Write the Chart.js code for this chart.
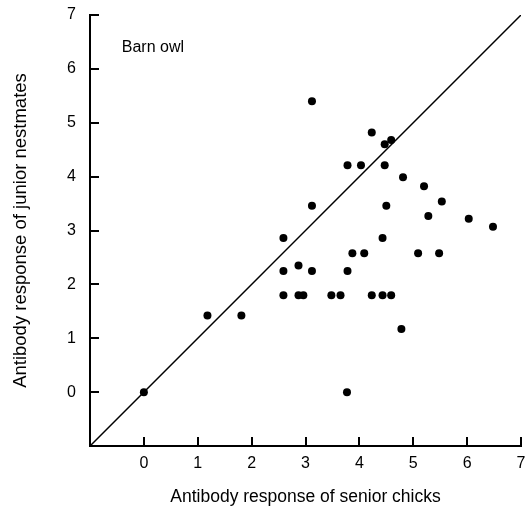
<!DOCTYPE html>
<html>
<head>
<meta charset="utf-8">
<script src="https://cdn.jsdelivr.net/npm/chart.js@4/dist/chart.umd.min.js"></script>
<style>
  body { margin: 0; background: #fff; }
  #wrap { width: 525px; height: 510px; }
</style>
</head>
<body>
<div id="wrap"><canvas id="owlChart" width="525" height="510"></canvas></div>
<script>
// senior chick response (x) vs junior nestmate response (y)
const seniorX = [0, 1.18, 1.81, 2.59, 2.59, 2.59, 2.87, 2.87, 2.96, 3.12, 3.12, 3.12, 3.48, 3.65, 3.77,
    3.78, 3.78, 3.87, 4.03, 4.09, 4.23, 4.23, 4.43, 4.43, 4.47, 4.47, 4.50, 4.59, 4.59, 4.78,
    4.81, 5.09, 5.20, 5.28, 5.48, 5.53, 6.03, 6.48];
const juniorY = [0, 1.42, 1.42, 2.86, 2.25, 1.80, 2.35, 1.80, 1.80, 5.40, 3.46, 2.25, 1.80, 1.80, 0,
    4.21, 2.25, 2.58, 4.21, 2.58, 4.82, 1.80, 2.86, 1.80, 4.60, 4.21, 3.46, 4.68, 1.80, 1.17,
    3.99, 2.58, 3.82, 3.27, 2.58, 3.54, 3.22, 3.07];
const diagonal = [-1, 7];
const xTicks = [0, 1, 2, 3, 4, 5, 6, 7];
const yTicks = [0, 1, 2, 3, 4, 5, 6, 7];
const panelLabel = 'Barn owl';

const FONT = '"Liberation Sans", Arial, sans-serif';

// tick marks point inward in the original, so draw them here
const innerTicks = {
    id: 'innerTicks',
    afterDraw(chart) {
        const { ctx, chartArea, scales: { x, y } } = chart;
        ctx.save();
        ctx.strokeStyle = '#000';
        ctx.lineWidth = 2;
        xTicks.forEach(v => {
            const px = Math.round(x.getPixelForValue(v));
            ctx.beginPath();
            ctx.moveTo(px, chartArea.bottom);
            ctx.lineTo(px, chartArea.bottom - 9);
            ctx.stroke();
        });
        yTicks.forEach(v => {
            const py = Math.round(y.getPixelForValue(v));
            ctx.beginPath();
            ctx.moveTo(chartArea.left, py);
            ctx.lineTo(chartArea.left + 9, py);
            ctx.stroke();
        });
        ctx.fillStyle = '#000';
        ctx.font = '16px ' + FONT;
        ctx.textBaseline = 'middle';
        ctx.textAlign = 'left';
        ctx.fillText(panelLabel, x.getPixelForValue(-0.41), y.getPixelForValue(6.4));
        ctx.restore();
    }
};

const points = seniorX.map((v, i) => ({ x: v, y: juniorY[i] }));
const diagPoints = diagonal.map(v => ({ x: v, y: v }));

new Chart(document.getElementById('owlChart'), {
    type: 'scatter',
    data: {
        datasets: [{
            type: 'line',
            data: diagPoints,
            borderColor: '#000',
            borderWidth: 1.5,
            pointRadius: 0,
            fill: false
        }, {
            data: points,
            backgroundColor: '#000',
            borderWidth: 0,
            pointRadius: 4,
            pointHoverRadius: 4
        }]
    },
    options: {
        responsive: false,
        animation: false,
        layout: { padding: { top: 15, right: 4, left: 0, bottom: 0 } },
        plugins: {
            legend: { display: false },
            tooltip: { enabled: false }
        },
        scales: {
            x: {
                type: 'linear',
                min: -1,
                max: 7,
                grid: { display: false, drawTicks: false },
                border: { display: true, color: '#000', width: 2 },
                afterBuildTicks: s => { s.ticks = xTicks.map(v => ({ value: v })); },
                afterFit: s => { s.height = 64; s.paddingLeft = 0; s.paddingRight = 0; },
                ticks: { color: '#000', font: { family: FONT, size: 16 }, padding: 8, maxRotation: 0 },
                title: {
                    display: true,
                    text: 'Antibody response of senior chicks',
                    color: '#000',
                    font: { family: FONT, size: 17.5 },
                    padding: { top: 0, bottom: 2 }
                }
            },
            y: {
                type: 'linear',
                min: -1,
                max: 7,
                grid: { display: false, drawTicks: false },
                border: { display: true, color: '#000', width: 2 },
                afterBuildTicks: s => { s.ticks = yTicks.map(v => ({ value: v })); },
                afterFit: s => { s.width = 90; s.paddingTop = 0; s.paddingBottom = 0; },
                ticks: { color: '#000', font: { family: FONT, size: 16 }, padding: 14 },
                title: {
                    display: true,
                    text: 'Antibody response of junior nestmates',
                    color: '#000',
                    font: { family: FONT, size: 18.5 },
                    padding: { top: 10, bottom: 0 }
                }
            }
        }
    },
    plugins: [innerTicks]
});
</script>
</body>
</html>
